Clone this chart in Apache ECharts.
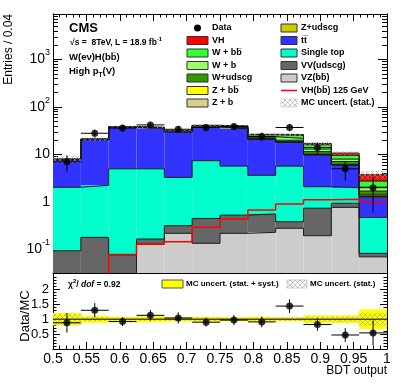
<!DOCTYPE html>
<html>
<head>
<meta charset="utf-8">
<script src="https://cdn.jsdelivr.net/npm/echarts@6/dist/echarts.min.js"></script>
<style>
html, body { margin: 0; padding: 0; background: #fff; }
#chart { width: 407px; height: 391px; }
</style>
</head>
<body>
<div id="chart"></div>
<script>
// bin edges of the BDT output
var binEdges = [0.5, 0.5417, 0.5833, 0.625, 0.6667, 0.7083, 0.75, 0.7917, 0.8333, 0.875, 0.9167, 0.9583, 1.0];

// backgrounds, bottom of the stack first
var vzbb      = [0.01, 0.02, 0.02, 0.129, 0.219, 0.135, 0.219, 0.23, 0.28, 0.195, 0.77, 0.07];
var vvudscg   = [0.084, 0.16, 0.057, 0.037, 0.098, 0.315, 0.31, 0.33, 0.105, 0.545, 0.17, 0.013];
var singleTop = [1.95, 2.06, 4.92, 4.83, 2.98, 6.95, 5.17, 3.09, 5.3, 1.36, 1.06, 0.39];
var ttbar     = [5.66, 18.3, 32.1, 30.9, 26.7, 31.0, 29.2, 17.25, 12.4, 7.7, 4.0, 0.79];
var zudscg    = [0.02, 0.05, 0.1, 0.1, 0.1, 0.1, 0.1, 0.1, 0.1, 0.1, 0.05, 0.04];
var zb        = [0.01, 0.02, 0.05, 0.05, 0.05, 0.05, 0.05, 0.05, 0.1, 0.1, 0.05, 0.05];
var zbb       = [0.01, 0.02, 0.05, 0.05, 0.05, 0.1, 0.1, 0.1, 0.2, 0.2, 0.1, 0.1];
var wudscg    = [0.15, 0.35, 0.6, 0.6, 0.6, 1.2, 1.8, 1.4, 1.5, 1.3, 0.9, 0.25];
var wb        = [0.05, 0.1, 0.2, 0.2, 0.3, 0.4, 1.0, 1.2, 1.8, 1.5, 0.9, 0.35];
var wbb       = [0.05, 0.1, 0.3, 0.3, 0.5, 0.6, 1.5, 2.2, 3.5, 3.0, 1.6, 0.7];
var vh        = [0.01, 0.02, 0.078, 0.129, 0.146, 0.293, 0.44, 0.68, 0.91, 1.12, 1.14, 1.0];

// data
var dataCounts = [7, 28, 36, 42, 34, 37, 39, 24, 37, 14, 5, 2];
var dataErr    = [2.6, 5.3, 6.0, 6.5, 5.8, 6.1, 6.2, 4.9, 6.1, 3.7, 2.2, 1.4];

// MC uncertainties (relative)
var mcStatRel = [0.18, 0.07, 0.05, 0.05, 0.05, 0.06, 0.05, 0.05, 0.06, 0.09, 0.09, 0.2];
var mcTotRel  = [0.21, 0.12, 0.08, 0.10, 0.08, 0.08, 0.07, 0.08, 0.07, 0.13, 0.13, 0.33];

// ratio panel
var ratioVals = [0.88, 1.30, 0.92, 1.13, 1.04, 0.90, 0.97, 0.91, 1.44, 0.82, 0.47, 0.54];
var ratioErr  = [0.33, 0.24, 0.15, 0.18, 0.19, 0.15, 0.17, 0.18, 0.23, 0.21, 0.23, 0.42];

var logLabels = [-1, 0, 1, 2, 3];
var ratioLabels = [0.5, 1, 1.5, 2];

var YMIN = -1.495, YMAX = 3.958;
var RMIN = 0, RMAX = 2.55;
var FONT = 'Liberation Sans, Arial, Helvetica, sans-serif';

var comps = [
  {name: 'VZ(bb\u0305)', vals: vzbb, color: '#cccccc'},
  {name: 'VV(udscg)', vals: vvudscg, color: '#666666'},
  {name: 'Single top', vals: singleTop, color: '#00ffcc'},
  {name: 'tt\u0305', vals: ttbar, color: '#3333ff'},
  {name: 'Z+udscg', vals: zudscg, color: '#cccc00'},
  {name: 'Z + b', vals: zb, color: '#d6d08c'},
  {name: 'Z + bb\u0305', vals: zbb, color: '#ffff00'},
  {name: 'W+udscg', vals: wudscg, color: '#339900'},
  {name: 'W + b', vals: wb, color: '#99ff66'},
  {name: 'W + bb\u0305', vals: wbb, color: '#33ff33'},
  {name: 'VH', vals: vh, color: '#ff0000'}
];
var cum = binEdges.slice(1).map(function () { return 0; });
comps.forEach(function (c) {
  c.lo = cum.slice();
  cum = cum.map(function (v, i) { return v + c.vals[i]; });
  c.hi = cum.slice();
});
var total = cum;

function lg(v) { return Math.max(Math.log10(v), YMIN - 1); }
function centers() { return binEdges.slice(1).map(function (e, i) { return (e + binEdges[i]) / 2; }); }

function hatchCanvas(color) {
  var c = document.createElement('canvas');
  c.width = 5; c.height = 5;
  var g = c.getContext('2d');
  g.strokeStyle = color; g.lineWidth = 0.6;
  g.beginPath();
  g.moveTo(0, 0); g.lineTo(5, 5);
  g.moveTo(5, 0); g.lineTo(0, 5);
  g.stroke();
  return c;
}
var hatch = {image: hatchCanvas('#a0a0a0'), repeat: 'repeat'};

function rectItem(params, api) {
  var a = api.coord([api.value(0), api.value(3)]);
  var b = api.coord([api.value(1), api.value(2)]);
  return {type: 'rect', shape: {x: a[0], y: a[1], width: b[0] - a[0], height: b[1] - a[1]},
    style: {fill: api.visual('color')}};
}

function boxSeries(data, color, xi, yi, z) {
  return {type: 'custom', xAxisIndex: xi, yAxisIndex: yi, clip: true, silent: true, z: z,
    itemStyle: {color: color}, encode: {x: [0, 1], y: [2, 3]},
    data: data, renderItem: rectItem};
}

function stepSeries(vals, color, width, z) {
  var pts = vals.map(function (v, i) { return [binEdges[i], lg(v)]; });
  pts.push([binEdges[binEdges.length - 1], lg(vals[vals.length - 1])]);
  return {type: 'line', step: 'end', data: pts, symbol: 'none', silent: true, z: z,
    xAxisIndex: 0, yAxisIndex: 0, clip: true, lineStyle: {color: color, width: width}};
}

function errSeries(vals, errs, xi, yi, logScale) {
  return {type: 'custom', xAxisIndex: xi, yAxisIndex: yi, clip: true, silent: true, z: 8,
    data: vals.map(function (v, i) { return [binEdges[i], binEdges[i + 1], v, errs[i]]; }),
    renderItem: function (params, api) {
      var x0 = api.value(0), x1 = api.value(1), v = api.value(2), e = api.value(3);
      var f = logScale ? lg : function (t) { return t; };
      var xc = (x0 + x1) / 2;
      var a = api.coord([x0, f(v)]), b = api.coord([x1, f(v)]);
      var t = api.coord([xc, f(v + e)]), d = api.coord([xc, f(Math.max(v - e, 1e-4))]);
      return {type: 'group', children: [
        {type: 'line', shape: {x1: a[0], y1: a[1], x2: b[0], y2: b[1]}, style: {stroke: '#000', lineWidth: 1}},
        {type: 'line', shape: {x1: t[0], y1: t[1], x2: d[0], y2: d[1]}, style: {stroke: '#000', lineWidth: 1}}
      ]};
    }};
}

function minorLog() {
  var out = [];
  for (var k = -2; k < 4; k++) for (var m = 2; m < 10; m++) {
    var t = k + Math.log10(m);
    if (t > YMIN && t < YMAX) out.push(t);
  }
  return out;
}
function minorRatio() {
  var out = [];
  for (var i = 1; i < 26; i++) { if (i % 5 !== 0) out.push(i / 10); }
  return out;
}

function xAx(grid, pos, labels) {
  return {type: 'value', gridIndex: grid, position: pos, min: 0.5, max: 1, interval: 0.05,
    axisLine: {show: true, onZero: false, lineStyle: {color: '#000', width: 1}},
    axisTick: {show: true, inside: true, length: 7, lineStyle: {color: '#000'}},
    minorTick: {show: true, splitNumber: 5, length: 3.5, lineStyle: {color: '#000'}},
    splitLine: {show: false},
    axisLabel: labels ? {show: true, margin: 3, fontSize: 14, fontFamily: FONT, color: '#000',
      formatter: function (v) { return String(+v.toFixed(2)); }} : {show: false}};
}
function yAx(grid, pos, min, max, ticks, len, label) {
  return {type: 'value', gridIndex: grid, position: pos, min: min, max: max,
    axisLine: {show: true, onZero: false, lineStyle: {color: '#000', width: 1}},
    axisTick: {show: true, inside: true, length: len, customValues: ticks, lineStyle: {color: '#000'}},
    splitLine: {show: false},
    axisLabel: label || {show: false}};
}

var logLabel = {show: true, customValues: logLabels, margin: 3, fontSize: 14, fontFamily: FONT, color: '#000',
  formatter: function (v) {
    var r = Math.round(v);
    if (r === 0) return '1';
    if (r === 1) return '10';
    return '10{s|' + r + '}';
  },
  rich: {s: {fontSize: 9, fontFamily: FONT, verticalAlign: 'top', lineHeight: 22}}};
var ratioLabel = {show: true, customValues: ratioLabels, margin: 4, fontSize: 13, fontFamily: FONT, color: '#000',
  formatter: function (v) { return String(v); }};

var series = [];
comps.forEach(function (c) {
  series.push(boxSeries(c.vals.map(function (v, i) {
    return [binEdges[i], binEdges[i + 1], Math.max(lg(c.lo[i] || 1e-9), YMIN - 1), lg(c.hi[i])];
  }), c.color, 0, 0, 2));
});
comps.forEach(function (c) { series.push(stepSeries(c.hi, '#1a1a1a', 1, 3)); });
// MC stat. uncertainty on the total
series.push(boxSeries(total.map(function (v, i) {
  return [binEdges[i], binEdges[i + 1], lg(v * (1 - mcStatRel[i])), lg(v * (1 + mcStatRel[i]))];
}), hatch, 0, 0, 4));
// VH(bb) 125 GeV unstacked
series.push(stepSeries(vh, '#ff0000', 1.5, 5));
// data
series.push(errSeries(dataCounts, dataErr, 0, 0, true));
series.push({type: 'scatter', xAxisIndex: 0, yAxisIndex: 0, symbol: 'circle', symbolSize: 7, z: 9, silent: true,
  itemStyle: {color: '#000'}, data: dataCounts.map(function (v, i) { return [centers()[i], lg(v)]; })});

// ratio panel
series.push(boxSeries(mcTotRel.map(function (e, i) { return [binEdges[i], binEdges[i + 1], 1 - e, 1 + e]; }),
  '#ffff00', 2, 4, 2));
series.push(boxSeries(mcStatRel.map(function (e, i) { return [binEdges[i], binEdges[i + 1], 1 - e, 1 + e]; }),
  hatch, 2, 4, 3));
series.push({type: 'line', xAxisIndex: 2, yAxisIndex: 4, symbol: 'none', silent: true, z: 4,
  data: [[0.5, 1], [1, 1]], lineStyle: {color: '#000', width: 1}});
series.push(errSeries(ratioVals, ratioErr, 2, 4, false));
series.push({type: 'scatter', xAxisIndex: 2, yAxisIndex: 4, symbol: 'circle', symbolSize: 7, z: 9, silent: true,
  itemStyle: {color: '#000'}, data: ratioVals.map(function (v, i) { return [centers()[i], v]; })});

// legend, built from the components
function byName(n) { return comps.filter(function (c) { return c.name === n; })[0]; }
var legendLeft = ['Data', 'VH', 'W + bb\u0305', 'W + b', 'W+udscg', 'Z + bb\u0305', 'Z + b'];
var legendRight = ['Z+udscg', 'tt\u0305', 'Single top', 'VV(udscg)', 'VZ(bb\u0305)', 'VH(bb\u0305) 125 GeV', 'MC uncert. (stat.)'];
var graphics = [];
function txt(x, y, s, size, weight, extra) {
  var st = {text: s, fontSize: size, fontWeight: weight || 'bold', fontFamily: FONT, fill: '#000',
    align: 'left', verticalAlign: 'middle'};
  for (var k in (extra || {})) st[k] = extra[k];
  return {type: 'text', x: x, y: y, style: st, z: 100};
}
function legendRow(name, bx, bw, tx, y) {
  if (name === 'Data') {
    graphics.push({type: 'circle', shape: {cx: bx + bw / 2, cy: y, r: 3.5}, style: {fill: '#000'}, z: 100});
  } else if (name.indexOf('125') > 0) {
    graphics.push({type: 'line', shape: {x1: bx, y1: y, x2: bx + bw, y2: y}, style: {stroke: '#ff0000', lineWidth: 1.5}, z: 100});
  } else if (name.indexOf('uncert') > 0) {
    graphics.push({type: 'rect', shape: {x: bx, y: y - 4, width: bw, height: 8}, style: {fill: hatch, stroke: '#bbb', lineWidth: 0.5}, z: 100});
  } else {
    graphics.push({type: 'rect', shape: {x: bx, y: y - 4, width: bw, height: 8}, style: {fill: byName(name).color, stroke: '#333', lineWidth: 1}, z: 100});
  }
  graphics.push(txt(tx, y, name, 9));
}
legendLeft.forEach(function (n, i) { legendRow(n, 187, 21, 212, 28 + i * 12.5); });
legendRight.forEach(function (n, i) { legendRow(n, 281, 16, 301, 28 + i * 12.5); });

graphics.push(txt(69, 28, 'CMS', 13));
graphics.push(txt(70, 43, '\u221As =  8TeV, L = 18.9 fb{s|-1}', 8.5, 'bold', {rich: {s: {fontSize: 6, fontWeight: 'bold', fontFamily: FONT, verticalAlign: 'top', lineHeight: 14}}}));
graphics.push(txt(69, 57, 'W(e\u03BD)H(bb\u0305)', 9.5));
graphics.push(txt(69, 71, 'High p{s|T}(V)', 9.5, 'bold', {rich: {s: {fontSize: 6.5, fontWeight: 'bold', fontFamily: FONT, verticalAlign: 'bottom', lineHeight: 16}}}));

// ratio legend
graphics.push({type: 'rect', shape: {x: 162, y: 280, width: 21, height: 8}, style: {fill: '#ffff00', stroke: '#555', lineWidth: 1}, z: 100});
graphics.push(txt(186, 284, 'MC uncert. (stat. + syst.)', 8));
graphics.push({type: 'rect', shape: {x: 287, y: 280, width: 20, height: 8}, style: {fill: hatch, stroke: '#999', lineWidth: 0.5}, z: 100});
graphics.push(txt(310, 284, 'MC uncert. (stat.)', 8));
graphics.push(txt(68, 285, '\u03C7{s|2}/ {i|dof} = 0.92', 8.5, 'bold', {rich: {
  s: {fontSize: 6, fontWeight: 'bold', fontFamily: FONT, verticalAlign: 'top', lineHeight: 14},
  i: {fontSize: 8.5, fontWeight: 'bold', fontStyle: 'italic', fontFamily: FONT}}}));

// axis titles
graphics.push(txt(9, 14, 'Entries / 0.04', 12, 'normal', {align: 'right'}));
graphics[graphics.length - 1].rotation = Math.PI / 2;
graphics.push(txt(25, 316, 'Data/MC', 13, 'normal', {align: 'center'}));
graphics[graphics.length - 1].rotation = Math.PI / 2;
graphics.push(txt(387, 371, 'BDT output', 12, 'normal', {align: 'right'}));

var chart = echarts.init(document.getElementById('chart'), null, {renderer: 'canvas'});
chart.setOption({
  animation: false,
  backgroundColor: '#fff',
  grid: [
    {left: 53, top: 14, width: 334, height: 259},
    {left: 53, top: 273, width: 334, height: 76}
  ],
  xAxis: [xAx(0, 'bottom', false), xAx(0, 'top', false), xAx(1, 'bottom', true)],
  yAxis: [
    yAx(0, 'left', YMIN, YMAX, logLabels, 9, logLabel),
    yAx(0, 'left', YMIN, YMAX, minorLog(), 5),
    yAx(0, 'right', YMIN, YMAX, logLabels, 9),
    yAx(0, 'right', YMIN, YMAX, minorLog(), 5),
    yAx(1, 'left', RMIN, RMAX, ratioLabels, 7, ratioLabel),
    yAx(1, 'left', RMIN, RMAX, minorRatio(), 3.5),
    yAx(1, 'right', RMIN, RMAX, ratioLabels, 7),
    yAx(1, 'right', RMIN, RMAX, minorRatio(), 3.5)
  ],
  series: series,
  graphic: graphics
});
</script>
</body>
</html>
